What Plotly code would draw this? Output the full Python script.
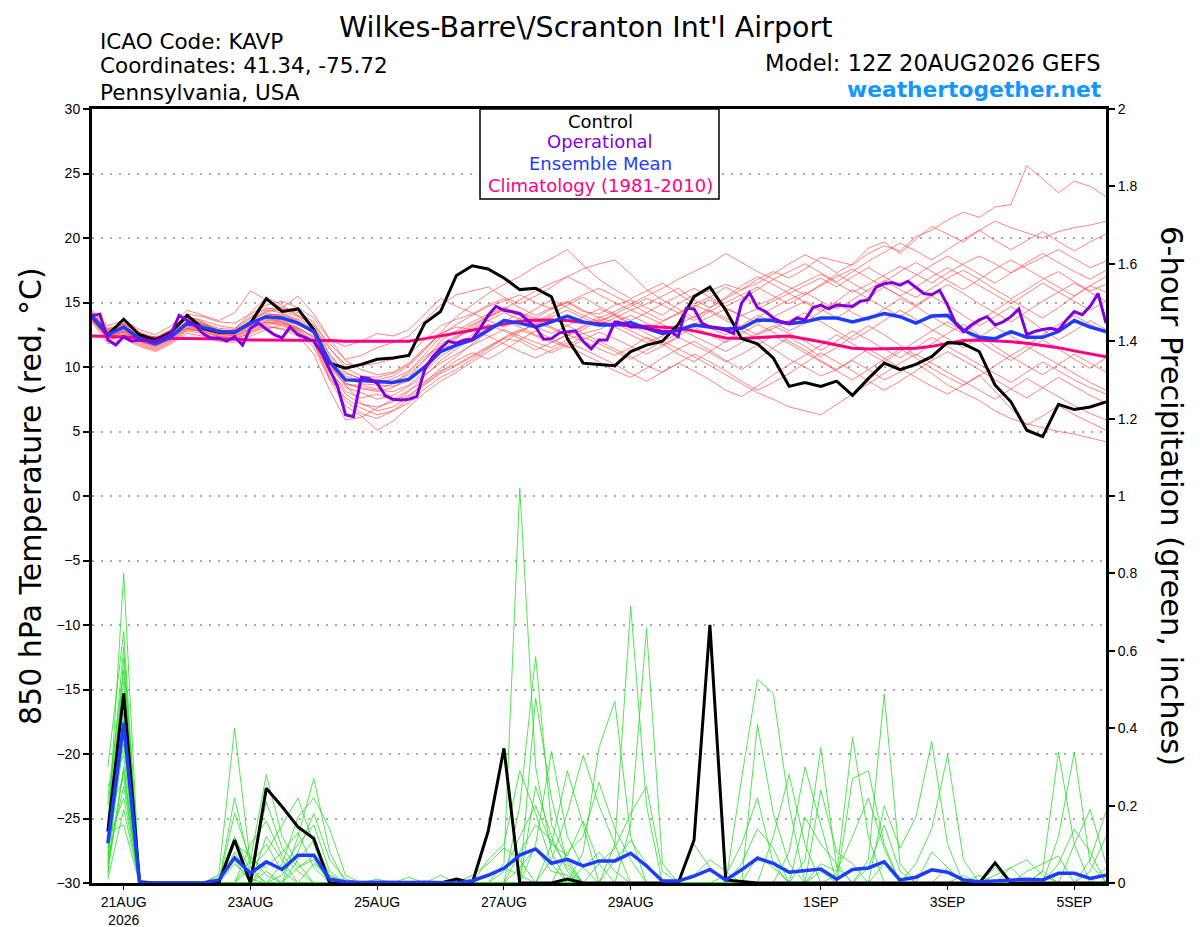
import pandas as pd
import plotly.graph_objects as go
from plotly.subplots import make_subplots

"""
GEFS meteogram KAVP: 850 hPa temperature (left axis) + 6h precipitation (right axis)
温度 6 小时一个点, 业务模式(operational) 3 小时一个点, 降水从第一个 6h 结束开始
"""

START = "2026-08-20 12:00"

TICK_DATES = ["2026-08-21", "2026-08-23", "2026-08-25", "2026-08-27",
              "2026-08-29", "2026-09-01", "2026-09-03", "2026-09-05"]
TICK_TEXT = ["21AUG<br>2026", "23AUG", "25AUG", "27AUG", "29AUG", "1SEP", "3SEP", "5SEP"]

# ---- 850 hPa temperature (degC), 6-hourly ----
control_t = [13.9, 12.5, 13.7, 12.5, 12.1, 12.7, 14.0, 13.0, 12.7, 12.7,
             13.4, 15.3, 14.3, 14.5, 12.9, 10.3, 9.9, 10.2, 10.6, 10.7,
             10.9, 13.4, 14.3, 17.1, 17.85, 17.6, 16.9, 16.0, 16.1, 15.45,
             12.2, 10.3, 10.2, 10.1, 11.2, 11.7, 12.0, 13.3, 15.45, 16.2,
             14.4, 12.2, 11.8, 10.7, 8.5, 8.8, 8.5, 8.9, 7.8, 9.1,
             10.3, 9.8, 10.2, 10.8, 11.9, 11.8, 11.2, 8.6, 7.3, 5.1,
             4.6, 7.1, 6.7, 6.9, 7.3]

mean_t = [13.9, 12.5, 13.1, 12.2, 11.8, 12.35, 13.4, 13.1, 12.75, 12.7,
          13.4, 13.9, 13.8, 13.4, 12.75, 10.4, 9.0, 8.95, 8.85, 8.8,
          9.05, 10.0, 11.2, 11.7, 12.1, 12.85, 13.6, 13.4, 13.1, 13.5,
          13.95, 13.5, 13.25, 13.25, 13.45, 13.0, 12.6, 12.85, 13.25, 13.1,
          12.95, 13.0, 13.65, 13.6, 13.35, 13.5, 13.8, 13.8, 13.5, 13.8,
          14.15, 13.9, 13.4, 13.95, 14.0, 12.85, 12.3, 12.2, 12.75, 12.3,
          12.3, 12.75, 13.6, 13.1, 12.75]

clim_t = [12.4, 12.35, 12.3, 12.3, 12.25, 12.2, 12.2, 12.2, 12.15, 12.15,
          12.1, 12.1, 12.1, 12.05, 12.05, 12.05, 12.0, 12.0, 12.0, 11.95,
          12.0, 12.2, 12.4, 12.6, 12.85, 13.1, 13.35, 13.55, 13.65, 13.65,
          13.6, 13.45, 13.35, 13.25, 13.2, 13.15, 13.1, 13.0, 12.8, 12.5,
          12.25, 12.2, 12.3, 12.35, 12.4, 12.2, 11.95, 11.7, 11.45, 11.4,
          11.4, 11.4, 11.45, 11.6, 11.85, 12.05, 12.1, 12.05, 11.95, 11.85,
          11.7, 11.5, 11.25, 11.0, 10.8]

# operational run, 3-hourly
oper_t = [14.0, 14.1, 12.1, 11.7, 12.35, 12.0, 12.1, 12.05, 12.0, 12.25,
          12.6, 14.0, 13.6, 13.25, 12.6, 12.25, 12.25, 12.0, 12.35, 11.7,
          13.0, 13.4, 12.95, 12.5, 12.25, 13.1, 12.5, 12.25, 12.0, 11.1,
          9.8, 8.5, 6.3, 6.15, 9.2, 9.1, 8.75, 7.8, 7.5, 7.45,
          7.5, 7.7, 9.8, 10.8, 11.45, 12.0, 11.85, 12.1, 12.15, 13.0,
          14.0, 14.7, 14.4, 14.3, 14.15, 13.6, 13.1, 12.15, 12.2, 12.65,
          12.75, 12.8, 12.0, 11.4, 12.1, 12.1, 13.5, 13.4, 13.1, 13.1,
          13.0, 12.85, 12.75, 12.75, 12.35, 14.55, 14.5, 13.4, 13.1, 13.0,
          12.85, 12.6, 14.95, 15.75, 14.6, 14.3, 13.8, 13.5, 13.4, 13.8,
          13.65, 14.6, 14.8, 14.5, 14.8, 14.75, 14.7, 15.1, 15.2, 16.2,
          16.45, 16.55, 16.35, 16.65, 16.2, 15.7, 15.6, 15.95, 14.8, 13.4,
          12.75, 13.25, 13.65, 13.9, 13.25, 13.5, 13.9, 14.5, 12.5, 12.75,
          12.9, 13.0, 12.85, 13.65, 14.3, 14.05, 14.7, 15.7, 13.4]

# ensemble members (red), 6-hourly
members_t = [
    [14.2, 12.8, 13.0, 12.4, 12.0, 12.6, 13.6, 13.3, 12.9, 12.6, 13.2, 14.0, 14.1, 13.7, 12.9,
     11.0, 9.6, 9.0, 8.7, 8.9, 9.4, 10.6,
     12.0, 12.8, 13.5, 14.1, 14.6, 14.2, 13.8,
     14.5, 15.0, 14.3, 14.1, 14.8, 15.2, 14.6, 14.0, 14.9, 15.6, 15.9, 16.4, 16.0, 16.8, 17.4, 16.9,
     17.6, 18.5, 18.2, 17.9, 18.8, 19.4, 19.0, 20.1, 20.6, 21.4, 22.0, 21.6, 22.4, 22.6, 25.6, 24.6, 23.5, 24.4, 24.0, 23.2],
    [13.6, 12.2, 12.8, 12.0, 11.6, 12.3, 13.9, 13.5, 12.6, 12.9, 14.2, 15.4, 14.8, 14.0, 13.2,
     11.8, 10.6, 10.9, 11.5, 11.9, 12.4, 13.6,
     14.8, 15.6, 15.9, 16.2, 15.4, 14.9, 15.5,
     16.2, 17.0, 16.4, 15.6, 15.0, 14.4, 14.9, 15.5, 16.1, 15.2, 14.6, 15.3, 16.0, 16.5, 17.2, 18.0,
     18.7, 18.1, 17.3, 18.0, 19.2, 19.7, 18.8, 19.9, 20.9, 20.3, 19.7, 20.6, 21.3, 20.8, 20.4, 20.0, 20.5, 20.8, 21.0, 21.3],
    [14.0, 12.0, 12.5, 11.8, 11.4, 12.0, 12.9, 12.8, 12.3, 12.2, 12.6, 13.1, 13.0, 12.6, 11.8,
     9.2, 7.4, 6.4, 6.0, 6.6, 7.2, 8.3,
     9.2, 9.8, 10.6, 11.4, 12.2, 12.0, 11.3,
     11.9, 12.5, 12.0, 11.4, 10.9, 11.5, 12.3, 11.8, 11.0, 10.4, 11.2, 12.0, 12.8, 12.2, 11.4, 10.6,
     10.0, 9.3, 9.8, 10.5, 9.8, 9.0, 9.6, 10.3, 9.5, 8.6, 8.0, 7.4, 6.6, 6.0, 5.6, 5.3, 5.0, 4.8, 4.5, 4.2],
    [13.8, 12.6, 13.4, 12.5, 12.1, 12.4, 13.0, 12.7, 12.4, 12.3, 13.0, 13.5, 13.2, 12.8, 11.5,
     9.0, 7.0, 6.2, 5.1, 5.8, 6.9, 8.0,
     8.9, 9.6, 10.4, 11.2, 11.9, 12.7, 13.4,
     13.0, 12.4, 12.9, 13.6, 14.0, 13.3, 12.6, 12.0, 12.6, 13.4, 13.0, 12.5, 13.2, 14.0, 13.5, 12.8,
     13.4, 14.3, 15.0, 14.2, 13.6, 14.5, 15.3, 14.7, 13.9, 13.2, 12.6, 13.5, 14.4, 15.2, 14.5, 13.8, 14.6, 15.5, 16.3, 15.8],
    [14.3, 13.2, 13.6, 12.9, 12.5, 13.2, 14.4, 14.0, 13.6, 14.2, 15.9, 15.2, 14.6, 15.5, 14.1,
     12.2, 10.5, 9.8, 9.4, 9.6, 10.3, 11.5,
     12.6, 13.1, 12.9, 13.6, 14.2, 13.7, 13.1,
     12.6, 13.2, 13.9, 14.5, 14.0, 13.4, 12.9, 13.5, 14.2, 14.8, 14.3, 13.6, 13.0, 13.8, 14.6, 15.2,
     15.8, 15.1, 14.5, 15.2, 16.0, 16.7, 16.0, 15.4, 16.1, 16.9, 17.5, 16.8, 16.0, 15.3, 16.0, 16.8, 17.4, 16.6, 15.9, 16.4],
    [13.5, 11.8, 12.2, 11.6, 11.2, 11.8, 12.6, 12.4, 12.0, 11.9, 12.4, 12.9, 13.3, 12.7, 11.9,
     9.8, 8.1, 7.6, 7.9, 7.4, 7.8, 8.7,
     9.6, 10.5, 11.1, 10.6, 11.3, 12.1, 12.8,
     12.2, 11.6, 11.0, 10.4, 9.7, 9.2, 9.9, 10.7, 11.4, 12.0, 11.3, 10.5, 9.8, 10.6, 11.5, 12.3,
     11.6, 10.8, 11.5, 12.4, 13.2, 12.5, 11.7, 10.9, 11.8, 12.6, 13.3, 12.5, 11.6, 10.8, 10.1, 9.4, 10.2, 11.0, 10.3, 9.6],
    [14.1, 12.9, 13.2, 12.3, 11.9, 12.7, 13.8, 13.4, 12.8, 12.8, 13.6, 14.3, 14.5, 14.0, 13.3,
     10.9, 9.5, 9.1, 9.0, 9.3, 10.1, 11.3,
     12.7, 13.9, 14.8, 15.7, 16.4, 17.0, 17.8,
     18.4, 19.1, 17.9, 16.8, 16.0, 15.3, 15.9, 16.5, 15.7, 14.9, 15.4, 16.2, 15.5, 14.8, 15.3, 16.0,
     16.6, 17.2, 16.5, 15.8, 16.4, 17.1, 17.8, 17.2, 16.5, 17.3, 18.0, 18.6, 18.0, 17.3, 17.9, 18.5, 19.1, 18.4, 17.7, 18.2],
    [13.7, 12.4, 12.9, 12.1, 11.7, 12.2, 13.2, 13.0, 12.7, 12.5, 13.3, 14.1, 14.0, 13.6, 12.5,
     10.3, 8.8, 8.3, 8.1, 8.4, 9.2, 10.5,
     11.8, 12.4, 13.0, 13.8, 14.5, 15.2, 15.9,
     16.5, 17.0, 17.6, 18.0, 18.3, 17.2, 16.0, 15.2, 14.5, 13.8, 14.6, 15.4, 16.3, 17.0, 16.4, 15.7,
     15.0, 14.3, 15.1, 16.0, 15.3, 14.6, 13.9, 14.7, 15.5, 14.8, 14.0, 13.2, 13.9, 14.7, 13.8, 12.9, 12.1, 12.8, 13.6, 12.9],
    [13.9, 12.3, 12.6, 11.9, 11.5, 12.1, 13.1, 12.9, 12.5, 12.4, 12.9, 13.4, 13.6, 13.1, 12.2,
     9.5, 8.4, 8.0, 7.5, 7.8, 8.5, 9.4,
     10.3, 11.0, 11.7, 12.3, 12.9, 12.4, 11.9,
     11.5, 12.1, 12.6, 12.0, 11.4, 10.8, 10.1, 9.6, 10.3, 11.0, 10.4, 9.7, 8.9, 8.2, 8.8, 9.5,
     10.3, 11.1, 10.4, 9.7, 8.9, 8.2, 8.9, 9.7, 10.5, 11.2, 10.5, 9.8, 9.0, 8.3, 7.6, 8.4, 9.2, 8.5, 7.8, 7.2],
    [14.0, 12.7, 13.1, 12.6, 12.2, 12.5, 13.3, 13.1, 12.9, 12.7, 13.4, 13.8, 13.5, 13.0, 12.4,
     10.1, 8.6, 7.2, 6.6, 6.9, 7.7, 8.8,
     9.9, 10.8, 11.8, 12.7, 13.5, 14.2, 13.6,
     13.1, 12.5, 13.2, 13.9, 13.4, 12.8, 12.2, 11.7, 12.4, 13.1, 12.5, 11.9, 12.6, 13.3, 12.7, 12.0,
     11.3, 10.5, 9.8, 10.6, 11.4, 10.7, 9.9, 9.2, 8.5, 7.9, 8.6, 9.4, 8.1, 6.8, 5.5, 6.2, 7.0, 6.3, 5.7, 5.1],
    [14.4, 13.0, 13.3, 12.7, 12.3, 12.9, 13.9, 13.6, 13.2, 13.0, 13.9, 14.6, 14.3, 13.9, 13.0,
     11.4, 10.2, 10.1, 10.3, 10.6, 11.0, 12.1,
     13.2, 13.7, 14.1, 14.8, 15.3, 14.6, 14.0,
     14.6, 15.1, 14.4, 13.8, 14.3, 14.9, 14.2, 13.6, 14.1, 14.7, 15.2, 14.6, 14.0, 14.5, 15.1, 15.7,
     16.3, 16.9, 16.2, 17.0, 17.7, 17.0, 16.3, 17.1, 17.9, 18.6, 17.9, 17.2, 16.5, 17.3, 18.1, 18.8, 18.1, 17.4, 16.8, 17.5],
    [13.6, 12.1, 12.4, 11.7, 11.3, 11.9, 12.8, 12.6, 12.2, 12.1, 12.7, 13.2, 12.9, 12.4, 11.0,
     8.2, 5.9, 6.1, 6.8, 7.5, 8.2, 8.9,
     9.7, 10.2, 10.9, 11.6, 12.2, 12.8, 13.3,
     13.8, 13.2, 12.6, 12.9, 13.5, 14.0, 13.4, 12.8, 13.3, 13.9, 14.4, 13.8, 13.1, 12.5, 13.0, 13.6,
     14.2, 13.5, 12.8, 12.1, 12.8, 13.6, 14.4, 13.7, 12.9, 12.2, 11.5, 12.3, 13.1, 12.4, 11.7, 12.5, 13.3, 14.0, 13.3, 12.6],
    [14.2, 12.9, 13.4, 12.6, 12.2, 12.9, 14.1, 13.9, 13.5, 13.4, 14.1, 14.8, 15.1, 14.6, 13.8,
     12.1, 11.6, 12.0, 12.6, 12.4, 12.9, 14.1,
     15.3, 14.7, 14.2, 13.6, 13.1, 13.8, 14.5,
     15.2, 14.6, 14.0, 13.5, 14.1, 14.7, 15.3, 14.8, 14.2, 13.6, 14.3, 15.0, 15.6, 16.2, 15.5, 14.9,
     15.6, 16.4, 17.2, 16.5, 15.8, 16.6, 17.4, 18.1, 17.4, 16.7, 16.0, 16.8, 17.6, 18.3, 17.6, 16.9, 16.2, 15.5, 16.3, 17.0],
    [13.9, 12.5, 12.9, 12.2, 11.8, 12.4, 13.4, 13.1, 12.6, 12.5, 13.1, 13.6, 13.7, 13.3, 12.6,
     10.0, 8.6, 8.6, 8.3, 8.7, 9.6, 10.8,
     11.6, 12.3, 12.9, 12.4, 11.8, 11.2, 10.7,
     11.3, 11.9, 11.4, 10.8, 10.2, 9.5, 8.9, 9.6, 10.3, 9.7, 9.0, 8.2, 7.7, 8.5, 9.4, 10.2,
     10.9, 11.7, 12.5, 11.8, 11.1, 10.4, 11.2, 12.0, 12.8, 13.5, 12.8, 12.0, 11.2, 10.5, 11.3, 12.1, 11.4, 10.6, 9.9, 10.7],
    [14.1, 12.6, 12.7, 12.0, 11.6, 12.2, 13.5, 13.2, 12.7, 12.6, 13.5, 14.4, 14.2, 13.5, 12.8,
     10.5, 9.1, 8.7, 8.6, 8.5, 8.9, 9.9,
     11.1, 12.2, 13.2, 13.9, 14.6, 14.0, 13.5,
     14.1, 14.8, 15.4, 14.7, 14.1, 13.6, 14.2, 14.9, 15.5, 16.1, 15.4, 14.7, 15.3, 16.0, 16.8, 17.4,
     18.0, 17.3, 16.6, 17.4, 18.2, 18.9, 19.6, 19.0, 18.3, 19.1, 19.9, 20.6, 19.8, 19.1, 19.8, 20.5, 19.7, 19.0, 19.7, 20.3],
    [13.7, 12.2, 12.5, 12.0, 11.7, 12.1, 12.9, 12.8, 12.4, 12.2, 12.8, 13.3, 13.4, 12.9, 12.0,
     9.6, 7.9, 7.1, 6.9, 7.3, 8.1, 9.3,
     10.5, 11.4, 12.3, 13.0, 13.6, 13.1, 12.5,
     12.0, 11.5, 12.1, 12.7, 12.2, 11.6, 11.0, 11.6, 12.3, 11.7, 11.1, 10.4, 11.0, 11.7, 12.4, 11.8,
     11.1, 10.4, 9.7, 9.0, 9.8, 10.6, 11.4, 10.7, 9.9, 9.2, 8.6, 9.3, 10.1, 10.9, 11.6, 10.9, 10.2, 9.5, 8.8, 8.2],
    [14.0, 12.8, 13.3, 12.4, 12.0, 12.8, 13.7, 13.4, 13.0, 12.9, 13.8, 14.5, 14.6, 14.2, 13.5,
     11.5, 9.9, 9.3, 9.2, 9.5, 10.2, 11.4,
     12.5, 13.3, 14.0, 14.7, 15.1, 15.6, 15.0,
     14.5, 15.0, 15.6, 16.1, 15.5, 14.9, 15.5, 16.1, 16.8, 17.4, 18.0, 18.8, 18.1, 17.4, 16.8, 16.2,
     15.6, 16.3, 17.0, 17.6, 16.9, 16.2, 15.5, 16.2, 17.0, 17.7, 17.0, 16.3, 15.6, 14.9, 15.7, 16.5, 15.8, 15.1, 14.4, 15.1],
    [13.8, 12.3, 12.8, 12.2, 11.9, 12.3, 13.2, 12.9, 12.6, 12.4, 13.0, 13.5, 13.4, 12.9, 11.9,
     9.1, 7.6, 6.8, 6.3, 6.6, 7.5, 8.6,
     9.5, 10.1, 10.8, 11.5, 12.3, 12.9, 12.4,
     11.9, 12.5, 13.1, 13.7, 13.1, 12.5, 11.9, 12.4, 13.0, 12.4, 11.8, 11.2, 11.9, 12.6, 13.2, 12.6,
     12.0, 11.3, 12.0, 12.8, 12.1, 11.4, 10.7, 11.5, 12.3, 11.6, 10.9, 10.2, 9.5, 8.8, 9.6, 10.4, 9.7, 9.0, 8.4, 7.9],
    [14.2, 12.7, 13.0, 12.5, 12.1, 12.5, 13.5, 13.3, 12.8, 12.7, 13.6, 14.2, 13.9, 13.5, 12.7,
     10.7, 9.3, 8.9, 8.8, 9.1, 9.7, 11.0,
     12.3, 12.6, 13.3, 13.9, 14.4, 14.0, 13.5,
     13.9, 14.4, 13.8, 13.3, 13.8, 14.4, 13.9, 13.3, 12.8, 13.3, 13.9, 14.5, 14.0, 13.4, 13.9, 14.5,
     15.1, 14.5, 13.8, 14.6, 15.4, 16.2, 15.5, 14.8, 15.6, 16.4, 15.7, 14.9, 14.2, 13.5, 14.3, 15.1, 15.8, 16.5, 15.8, 15.1],
    [13.9, 12.4, 12.7, 12.1, 11.8, 12.3, 13.0, 12.9, 12.5, 12.6, 13.2, 13.7, 13.5, 13.0, 12.3,
     10.2, 8.7, 8.4, 8.2, 8.1, 8.6, 9.7,
     10.8, 11.6, 12.5, 13.3, 12.8, 12.2, 11.6,
     11.1, 11.7, 12.3, 11.8, 11.2, 10.6, 11.3, 12.0, 11.4, 10.8, 10.1, 9.4, 8.7, 8.0, 7.5, 6.9,
     6.6, 6.3, 7.1, 7.9, 8.7, 9.5, 10.3, 11.0, 10.3, 9.6, 8.9, 8.2, 7.5, 8.3, 9.1, 8.4, 7.7, 7.0, 6.4, 5.9],
]

# ---- 6-hour precipitation (inches), steps 1..64 (20AUG 18Z .. 5SEP 12Z) ----
control_p = [0.133, 0.49, 0.003, 0, 0, 0, 0, 0, 0.111, 0,
             0.245, 0.197, 0.145, 0.115, 0, 0, 0, 0, 0, 0,
             0, 0, 0.01, 0, 0.133, 0.348, 0, 0, 0, 0.01,
             0, 0, 0, 0, 0, 0, 0, 0.111, 0.667, 0.008,
             0.004, 0, 0, 0, 0, 0, 0, 0, 0, 0,
             0, 0, 0, 0, 0, 0, 0.052, 0, 0, 0,
             0, 0, 0, 0]

mean_p = [0.103, 0.413, 0.0, 0.0, 0.0, 0.0, 0.0, 0.008, 0.065, 0.025,
          0.055, 0.035, 0.072, 0.072, 0.01, 0.003, 0.001, 0.002, 0.001, 0.001,
          0.002, 0.001, 0.0, 0.006, 0.02, 0.038, 0.072, 0.088, 0.051, 0.061,
          0.044, 0.057, 0.057, 0.077, 0.044, 0.005, 0.005, 0.018, 0.035, 0.008,
          0.034, 0.064, 0.051, 0.028, 0.031, 0.036, 0.01, 0.035, 0.039, 0.055,
          0.008, 0.015, 0.034, 0.028, 0.008, 0.003, 0.005, 0.008, 0.01, 0.008,
          0.025, 0.025, 0.012, 0.02]

# members (green): only the wet steps are listed, every other step is dry
members_p = [
    {1: 0.12, 2: 0.80, 8: 0.02, 9: 0.40, 10: 0.05, 11: 0.10, 12: 0.03, 26: 0.05, 27: 1.02, 28: 0.30,
     29: 0.08, 38: 0.02, 39: 0.06, 40: 0.03, 46: 0.03, 50: 0.05, 54: 0.04},
    {1: 0.30, 2: 0.65, 9: 0.18, 10: 0.06, 11: 0.28, 12: 0.12, 13: 0.05, 27: 0.20, 28: 0.585, 29: 0.15,
     30: 0.06, 41: 0.27, 42: 0.526, 43: 0.49, 44: 0.20, 56: 0.02, 60: 0.03},
    {1: 0.05, 2: 0.58, 10: 0.04, 11: 0.08, 12: 0.15, 13: 0.22, 14: 0.10, 18: 0.01, 28: 0.478, 29: 0.22,
     30: 0.05, 42: 0.41, 43: 0.18, 44: 0.05, 55: 0.02, 57: 0.04},
    {1: 0.20, 2: 0.52, 13: 0.12, 14: 0.27, 15: 0.08, 28: 0.10, 29: 0.34, 30: 0.12, 31: 0.04, 38: 0.10,
     39: 0.04, 58: 0.04, 59: 0.06, 60: 0.02},
    {1: 0.10, 2: 0.48, 9: 0.08, 10: 0.02, 11: 0.21, 12: 0.09, 13: 0.04, 14: 0.06, 29: 0.06, 30: 0.18,
     31: 0.33, 32: 0.20, 33: 0.10, 43: 0.12, 44: 0.28, 45: 0.10, 60: 0.03, 61: 0.338, 62: 0.10},
    {1: 0.02, 2: 0.44, 12: 0.05, 13: 0.17, 14: 0.22, 15: 0.14, 16: 0.02, 31: 0.08, 32: 0.35, 33: 0.47,
     34: 0.12, 41: 0.05, 42: 0.14, 43: 0.09, 61: 0.12, 62: 0.338, 63: 0.05},
    {1: 0.15, 2: 0.40, 8: 0.01, 9: 0.12, 10: 0.03, 20: 0.015, 33: 0.10, 34: 0.716, 35: 0.20, 44: 0.08,
     45: 0.30, 46: 0.15, 62: 0.10, 63: 0.19, 64: 0.05},
    {1: 0.08, 2: 0.36, 10: 0.10, 11: 0.16, 12: 0.07, 13: 0.03, 34: 0.15, 35: 0.658, 36: 0.05, 40: 0.02,
     41: 0.10, 42: 0.22, 43: 0.05, 63: 0.06, 64: 0.185},
    {1: 0.25, 2: 0.33, 11: 0.05, 12: 0.04, 13: 0.10, 14: 0.15, 15: 0.03, 25: 0.06, 26: 0.10, 27: 0.29,
     28: 0.18, 29: 0.05, 45: 0.06, 46: 0.35, 47: 0.04, 59: 0.03, 60: 0.05, 61: 0.07},
    {1: 0.04, 2: 0.30, 9: 0.22, 10: 0.04, 26: 0.03, 27: 0.12, 28: 0.20, 29: 0.10, 30: 0.29, 31: 0.15,
     42: 0.07, 43: 0.04, 57: 0.02, 58: 0.04},
    {1: 0.18, 2: 0.27, 13: 0.06, 14: 0.11, 15: 0.02, 22: 0.02, 30: 0.08, 31: 0.12, 32: 0.26, 33: 0.14,
     34: 0.06, 46: 0.24, 47: 0.08, 48: 0.05, 63: 0.03, 64: 0.12},
    {1: 0.06, 2: 0.25, 10: 0.06, 11: 0.04, 12: 0.08, 13: 0.13, 14: 0.04, 27: 0.08, 28: 0.15, 29: 0.11,
     30: 0.04, 47: 0.02, 48: 0.376, 49: 0.12, 61: 0.05, 62: 0.14, 63: 0.08},
    {1: 0.11, 2: 0.22, 9: 0.05, 10: 0.01, 32: 0.05, 33: 0.09, 34: 0.18, 35: 0.25, 36: 0.03, 48: 0.27,
     49: 0.29, 50: 0.10, 64: 0.04},
    {1: 0.01, 2: 0.19, 14: 0.05, 15: 0.02, 24: 0.02, 25: 0.05, 26: 0.09, 27: 0.06, 49: 0.06, 50: 0.488,
     51: 0.05},
    {1: 0.13, 2: 0.15, 11: 0.12, 12: 0.06, 29: 0.10, 30: 0.07, 31: 0.16, 32: 0.05, 50: 0.20, 51: 0.09,
     52: 0.17, 53: 0.365, 54: 0.10},
    {1: 0.09, 2: 0.42, 9: 0.10, 10: 0.07, 11: 0.02, 27: 0.04, 28: 0.09, 29: 0.03, 30: 0.02, 52: 0.05,
     53: 0.14, 54: 0.33, 55: 0.06},
    {1: 0.22, 2: 0.55, 12: 0.02, 13: 0.08, 14: 0.18, 15: 0.06, 16: 0.01, 33: 0.06, 34: 0.11, 35: 0.05,
     46: 0.05, 47: 0.03, 48: 0.12, 49: 0.22, 50: 0.09},
    {1: 0.07, 2: 0.38, 8: 0.02, 9: 0.06, 28: 0.25, 29: 0.12, 30: 0.03, 53: 0.08, 54: 0.04},
    {1: 0.16, 2: 0.61, 13: 0.04, 14: 0.07, 31: 0.04, 32: 0.08, 33: 0.03, 45: 0.17, 46: 0.10, 47: 0.05},
    {1: 0.03, 2: 0.29, 11: 0.03, 25: 0.02, 26: 0.04, 27: 0.02, 49: 0.04, 50: 0.15, 51: 0.03},
]

FONT = "Liberation Sans, Arial, sans-serif"
WIDE = "DejaVu Sans, Liberation Sans, sans-serif"
RED = "rgba(255,70,70,0.85)"
GREEN = "rgb(40,220,40)"
PURPLE = "rgb(130,0,220)"
BLUE = "rgb(30,60,255)"
PINK = "rgb(255,0,130)"

# 绘图区在截图中的像素位置; 页面 body 有 8px 的默认边距, 所以 margin 要减掉
L, R, T, B = 92, 1106, 109, 883
W, H, PAGE = 1200, 927, 8


def px(x):
    return (x - L) / (R - L)


def py(y):
    return (B - y) / (B - T)


def main():
    t6 = pd.date_range(START, periods=65, freq="6h")
    t3 = pd.date_range(START, periods=129, freq="3h")
    tp = t6[1:]

    fig = make_subplots(specs=[[{"secondary_y": True}]])

    for m in members_t:
        fig.add_trace(go.Scatter(x=t6, y=m, mode="lines", line=dict(color=RED, width=0.8)),
                      secondary_y=False)
    fig.add_trace(go.Scatter(x=t6, y=clim_t, mode="lines", line=dict(color=PINK, width=3)),
                  secondary_y=False)
    fig.add_trace(go.Scatter(x=t6, y=control_t, mode="lines", line=dict(color="black", width=3)),
                  secondary_y=False)
    fig.add_trace(go.Scatter(x=t6, y=mean_t, mode="lines", line=dict(color=BLUE, width=3.5)),
                  secondary_y=False)
    fig.add_trace(go.Scatter(x=t3, y=oper_t, mode="lines", line=dict(color=PURPLE, width=3)),
                  secondary_y=False)

    for m in members_p:
        vals = [m.get(k, 0.0) for k in range(1, 65)]
        fig.add_trace(go.Scatter(x=tp, y=vals, mode="lines", line=dict(color=GREEN, width=0.8)),
                      secondary_y=True)
    fig.add_trace(go.Scatter(x=tp, y=control_p, mode="lines", line=dict(color="black", width=3)),
                  secondary_y=True)
    fig.add_trace(go.Scatter(x=tp, y=mean_p, mode="lines", line=dict(color=BLUE, width=3.5)),
                  secondary_y=True)

    fig.update_xaxes(
        domain=[0, 1], automargin=False,
        range=[t6[0], t6[-1]],
        tickmode="array", tickvals=TICK_DATES, ticktext=TICK_TEXT,
        ticks="outside", ticklen=4, tickcolor="black",
        showline=True, linewidth=3, linecolor="black", mirror=True,
        showgrid=False, tickfont=dict(size=14, color="black"),
    )
    fig.update_yaxes(
        range=[-30, 30], dtick=5, secondary_y=False, automargin=False,
        ticks="outside", ticklen=6, tickwidth=1.5, tickcolor="black",
        showline=True, linewidth=3, linecolor="black",
        showgrid=True, gridcolor="#a8a8a8", griddash="2px,7px", gridwidth=1.5,
        zeroline=False, tickfont=dict(size=14, color="black"),
    )
    fig.update_yaxes(
        range=[0, 2], dtick=0.2, secondary_y=True, automargin=False,
        ticks="outside", ticklen=6, tickwidth=1.5, tickcolor="black",
        showline=True, linewidth=3, linecolor="black",
        showgrid=False, zeroline=False, tickfont=dict(size=14, color="black"),
    )

    ann = [
        dict(x=px(585), y=py(27), text="Wilkes-Barre\\/Scranton Int'l Airport",
             font=dict(size=28.5, family=WIDE), xanchor="center"),
        dict(x=px(99), y=py(41), text="ICAO Code: KAVP", font=dict(size=21.5, family=WIDE), xanchor="left"),
        dict(x=px(99), y=py(66), text="Coordinates: 41.34, -75.72", font=dict(size=21.5, family=WIDE),
             xanchor="left"),
        dict(x=px(99), y=py(92), text="Pennsylvania, USA", font=dict(size=21.5, family=WIDE), xanchor="left"),
        dict(x=px(1102), y=py(63), text="Model: 12Z 20AUG2026 GEFS", font=dict(size=22.6, family=WIDE),
             xanchor="right"),
        dict(x=px(1102), y=py(89), text="<b>weathertogether.net</b>",
             font=dict(size=21.8, family=WIDE, color="rgb(20,150,255)"), xanchor="right"),
        dict(x=px(600), y=py(121), text="Control", font=dict(size=18, family=WIDE, color="black"),
             xanchor="center"),
        dict(x=px(600), y=py(142), text="Operational", font=dict(size=18, family=WIDE, color=PURPLE),
             xanchor="center"),
        dict(x=px(600), y=py(163), text="Ensemble Mean", font=dict(size=18, family=WIDE, color=BLUE),
             xanchor="center"),
        dict(x=px(600), y=py(185), text="Climatology (1981-2010)", font=dict(size=18, family=WIDE, color=PINK),
             xanchor="center"),
        dict(x=px(30), y=0.5, text="850 hPa Temperature (red, °C)", font=dict(size=30, family=WIDE),
             textangle=-90, xanchor="center"),
        dict(x=px(1172), y=0.5, text="6-hour Precipitation (green, inches)", font=dict(size=30.5, family=WIDE),
             textangle=90, xanchor="center"),
    ]
    for a in ann:
        a.update(xref="paper", yref="paper", showarrow=False, yanchor="middle", borderpad=0)

    fig.update_layout(
        width=W, height=H,
        margin=dict(l=L - PAGE, r=W - R + PAGE, t=T - PAGE, b=H - B + PAGE, pad=0),
        paper_bgcolor="white", plot_bgcolor="white",
        font=dict(family=FONT, color="black"),
        showlegend=False,
        annotations=ann,
        shapes=[dict(type="rect", xref="paper", yref="paper",
                     x0=px(480), x1=px(719), y0=py(199), y1=py(109),
                     line=dict(color="black", width=1.5), fillcolor="white", layer="above")],
    )

    fig.write_html("out.html")


if __name__ == '__main__':
    main()
